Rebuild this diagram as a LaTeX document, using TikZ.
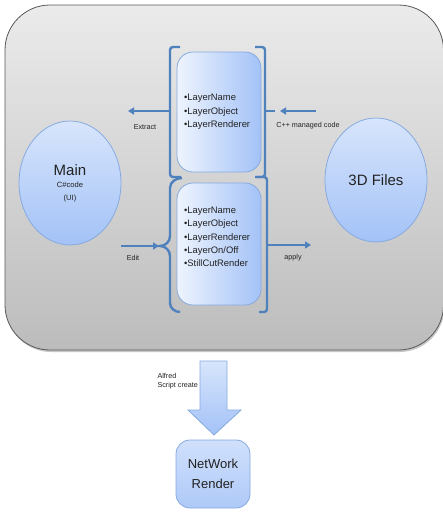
\documentclass[tikz,border=0pt]{standalone}
\usepackage{fontspec}
\setmainfont{Liberation Sans}
\usetikzlibrary{arrows.meta,shapes.geometric,shadows}
\definecolor{layerblue}{HTML}{4F81BD}
\definecolor{layeredge}{HTML}{86AAE0}
\definecolor{layerlight}{HTML}{EEF4FE}
\definecolor{layerdeep}{HTML}{A3C2F7}
\definecolor{paneltop}{HTML}{EBEBEB}
\definecolor{panelgrey}{HTML}{BCBCBC}
\definecolor{inkdark}{HTML}{222222}

\begin{document}
\begin{tikzpicture}[
  x=1pt,y=-1pt,
  font=\fontsize{7.2}{8.6}\selectfont,
  text=inkdark,
  panel/.style={draw=black!65,line width=0.8pt,rounded corners=45pt,
    top color=paneltop,bottom color=panelgrey,
    drop shadow={opacity=0.45,shadow xshift=1pt,shadow yshift=-2pt}},
  layerbox/.style={draw=layeredge,line width=0.8pt,rounded corners=16pt,
    left color=layerlight,right color=layerdeep,minimum width=84pt},
  listtext/.style={anchor=west,align=left,
    font=\fontsize{9.4}{13.6}\selectfont},
  sidenode/.style={ellipse,draw=layeredge,line width=0.8pt,
    top color=layerlight!70!layerdeep,bottom color=layerdeep,
    minimum width=102pt,minimum height=124pt,align=center},
  renderbox/.style={draw=layeredge,line width=0.8pt,rounded corners=14pt,
    top color=layerlight!60!layerdeep,bottom color=layerdeep!85!layerlight,
    minimum width=74pt,minimum height=68pt,align=center,
    font=\fontsize{13}{20}\selectfont},
  bracket/.style={draw=layerblue,line width=2.4pt,rounded corners=3pt},
  flow/.style={-{Triangle[length=6pt,width=7pt]},draw=layerblue,line width=2.4pt},
  flowlabel/.style={font=\fontsize{7.2}{8.6}\selectfont}
]
  \useasboundingbox (0,0) rectangle (443,512);

  % grey panel
  \draw[panel] (5,5) rectangle (443.5,350);

  % layer boxes
  \node[layerbox,minimum height=120pt] (upper) at (219,112) {};
  \node[listtext] (upperlist) at ([xshift=4pt]upper.west)
    {\textbullet LayerName\\\textbullet LayerObject\\\textbullet LayerRenderer};
  \node[layerbox,minimum height=122pt] (lower) at (219,244) {};
  \node[listtext,font=\fontsize{9.4}{13.3}\selectfont] (lowerlist)
    at ([xshift=4pt,yshift=7pt]lower.west)
    {\textbullet LayerName\\\textbullet LayerObject\\\textbullet LayerRenderer\\
     \textbullet LayerOn/Off\\\textbullet StillCutRender};

  % brackets
  \draw[bracket] (180,47) -- (170,47) -- (170,177) -- (181,177);
  \draw[bracket] (255,47) -- (265,47) -- (265,177) -- (257,177);
  \draw[bracket] (265,111) -- (275,111);
  \draw[bracket,rounded corners=0pt] (182,178) to[out=180,in=90] (170,188)
    -- (170,236) to[out=-90,in=0] (160,246) to[out=0,in=90] (170,256)
    -- (170,303) to[out=-90,in=180] (180,312);
  \draw[bracket] (255,177) -- (267,177) -- (267,312) -- (259,312);

  % side ellipses
  \node[sidenode,font=\fontsize{7.6}{13}\selectfont] (main) at (70,183)
    {{\fontsize{15}{16}\selectfont Main}\\[-1pt] C\#code\\ (UI)};
  \node[sidenode] (files) at (376,180) {\fontsize{15}{18}\selectfont 3D Files};

  % connectors
  \coordinate (extractfoot) at (171,111);
  \coordinate (extracttip) at (128,111);
  \coordinate (managedfoot) at (316,111);
  \coordinate (managedtip) at (280,111);
  \coordinate (editfoot) at (121,246);
  \coordinate (edittip) at (159,246);
  \coordinate (applyfoot) at (267,245);
  \coordinate (applytip) at (311,245);
  \draw[flow] (extractfoot) -- (extracttip);
  \draw[flow] (managedfoot) -- (managedtip);
  \draw[flow] (editfoot) -- (edittip);
  \draw[flow] (applyfoot) -- (applytip);
  \node[flowlabel] (extractlabel) at (145,127) {Extract};
  \node[flowlabel] (managedlabel) at (308,126) {C++ managed code};
  \node[flowlabel] (editlabel) at (133,258) {Edit};
  \node[flowlabel] (applylabel) at (293,258) {apply};

  % render step
  \draw[draw=layeredge,line width=0.8pt,top color=layerlight!70!layerdeep,
    bottom color=layerdeep]
    (200,361) -- (227,361) -- (227,410) -- (241,410) -- (214,435)
    -- (188,410) -- (200,410) -- cycle;
  \node[flowlabel,anchor=west,align=left] (scriptlabel) at (154,381)
    {Alfred\\Script create};
  \node[renderbox] (render) at (213,474) {NetWork\\Render};
\end{tikzpicture}
\end{document}
